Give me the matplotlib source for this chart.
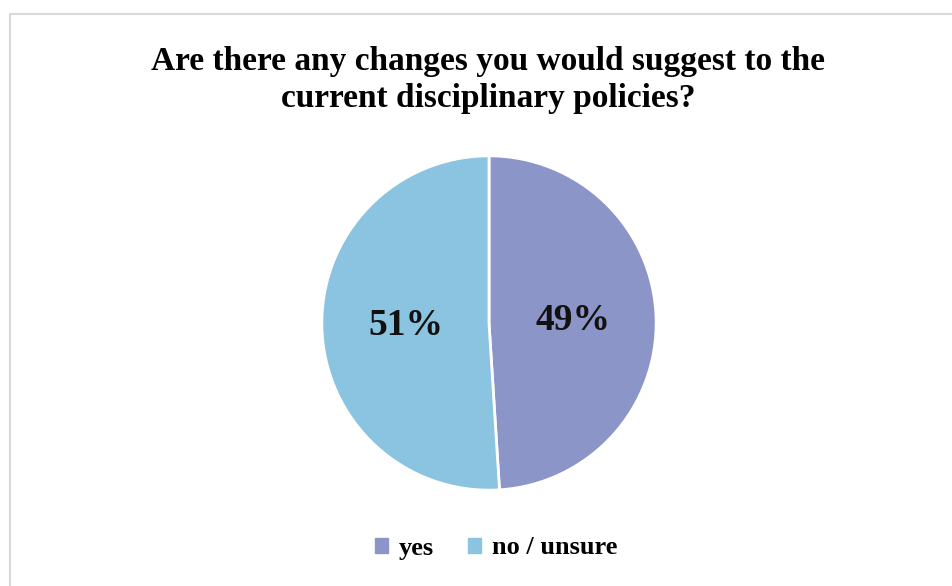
import matplotlib.pyplot as plt
from matplotlib.lines import Line2D

labels = ['yes', 'no / unsure']
values = [49, 51]
colors = ['#8C95C8', '#8BC4E0']

plt.rcParams['font.family'] = ['Liberation Serif', 'DejaVu Serif']

fig = plt.figure(figsize=(9.53, 5.86), dpi=100)

# light frame (clipped on right and bottom like the screenshot)
fig.add_artist(Line2D([10 / 953, 10 / 953], [0, 1 - 14 / 586], color='#d9d9d9', lw=1.5))
fig.add_artist(Line2D([10 / 953, 1], [1 - 14 / 586, 1 - 14 / 586], color='#d9d9d9', lw=1.5))

# pie in its own axes
r = 168
cx, cy = 489, 323
pax = fig.add_axes([(cx - r) / 953, 1 - (cy + r) / 586, 2 * r / 953, 2 * r / 586])
wedges, texts = pax.pie(values, colors=colors, startangle=90, counterclock=False,
                        labels=[f'{v}%' for v in values], labeldistance=0.5,
                        wedgeprops=dict(edgecolor='white', linewidth=2))
for t in texts:
    t.set_fontsize(27)
    t.set_fontweight('bold')
    t.set_ha('center')
    t.set_va('center')
    t.set_color('#111111')
pax.set_xlim(-1.005, 1.005)
pax.set_ylim(-1.005, 1.005)
pax.set_aspect('equal')

fig.text(0.512, 1 - 80 / 586,
         'Are there any changes you would suggest to the\ncurrent disciplinary policies?',
         ha='center', va='center', fontsize=24, fontweight='bold', linespacing=1.28)

handles = [plt.Rectangle((0, 0), 1, 1, color=c) for c in colors]
fig.legend(handles, labels, loc='center', bbox_to_anchor=(496 / 953, 1 - 548 / 586),
           ncol=2, frameon=False, prop={'size': 19, 'weight': 'bold'},
           handlelength=0.5, handleheight=0.5, handletextpad=0.4, columnspacing=1.3)

fig.savefig('out.png', dpi=100)
